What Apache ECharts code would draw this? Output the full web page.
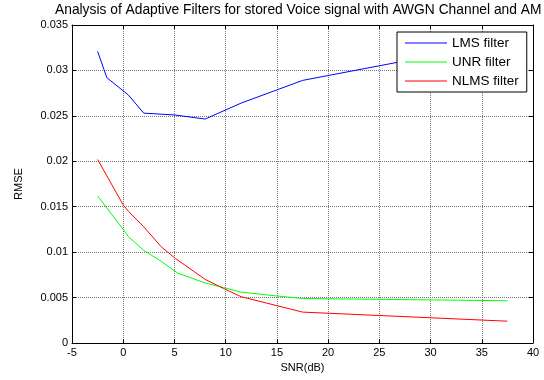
<!DOCTYPE html>
<html>
<head>
<meta charset="utf-8">
<script src="https://cdn.jsdelivr.net/npm/echarts@6/dist/echarts.min.js"></script>
<style>
  html, body { margin: 0; padding: 0; background: #fff; }
  #chart { width: 544px; height: 380px; }
</style>
</head>
<body>
<div id="chart"></div>
<script>
// values
const titleText = 'Analysis of Adaptive Filters for stored Voice signal with AWGN Channel and AM';
const seriesNames = ['LMS filter', 'UNR filter', 'NLMS filter'];

const snrLms = [-2.5, -1.6, 0.5, 2.0, 5.0, 8.0, 11.5, 17.5, 37.5];
const lms    = [0.0321, 0.0292, 0.0273, 0.0253, 0.0251, 0.02465, 0.0264, 0.0289, 0.0332];

const snrUnr = [-2.5, 0.0, 0.5, 2.0, 3.7, 5.3, 8.0, 9.8, 11.5, 14.8, 17.5, 37.5];
const unr    = [0.0162, 0.0125, 0.0117, 0.0102, 0.0090, 0.0077, 0.0066, 0.0061, 0.0056, 0.0052, 0.0049, 0.00465];

const snrNlms = [-2.5, -1.6, 0.0, 0.5, 2.0, 3.7, 5.1, 8.0, 9.8, 11.5, 17.5, 37.5];
const nlms    = [0.0202, 0.0184, 0.0152, 0.0145, 0.0128, 0.0106, 0.0093, 0.0070, 0.0060, 0.0051, 0.0034, 0.0024];

const lineColors = ['#0000ff', '#00ff00', '#ff0000'];

const pairs = (xs, ys) => xs.map((x, i) => [x, ys[i]]);

const font = 'Liberation Sans, Arial, sans-serif';
const gridLine = { show: true, lineStyle: { color: '#777', type: [1, 1], width: 1 } };
const tick = { show: true, inside: true, length: 4, lineStyle: { color: '#000' } };
const frame = { show: true, onZero: false, lineStyle: { color: '#000', width: 1 } };

const chart = echarts.init(document.getElementById('chart'));

chart.setOption({
  animation: false,
  title: {
    text: titleText,
    left: 55, top: 3, padding: 0,
    textStyle: { fontFamily: font, fontSize: 13.8, fontWeight: 'normal', color: '#000' }
  },
  grid: { left: 72, right: 11, top: 25, bottom: 37 },
  legend: {
    orient: 'vertical',
    left: 397, top: 32,
    data: seriesNames,
    backgroundColor: '#fff',
    borderColor: '#000', borderWidth: 1,
    padding: [4, 8, 4, 8],
    itemWidth: 42, itemHeight: 12, itemGap: 5,
    icon: 'path://M0,5 L42,5 L42,6 L0,6 Z',
    textStyle: { fontFamily: font, fontSize: 13.5, color: '#000' }
  },
  xAxis: [{
    type: 'value', min: -5, max: 40, interval: 5,
    name: 'SNR(dB)', nameLocation: 'middle', nameGap: 16,
    nameTextStyle: { fontFamily: font, fontSize: 11, color: '#000' },
    axisLine: frame, axisTick: tick, splitLine: gridLine,
    axisLabel: { fontFamily: font, fontSize: 11, color: '#000', margin: 4 }
  }, {
    type: 'value', min: -5, max: 40, interval: 5, position: 'top',
    axisLine: frame, axisTick: tick, splitLine: { show: false },
    axisLabel: { show: false }
  }],
  yAxis: [{
    type: 'value', min: 0, max: 0.035, interval: 0.005,
    name: 'RMSE', nameLocation: 'middle', nameGap: 48,
    nameTextStyle: { fontFamily: font, fontSize: 11, color: '#000' },
    axisLine: frame, axisTick: tick, splitLine: gridLine,
    axisLabel: { fontFamily: font, fontSize: 11, color: '#000', margin: 4 }
  }, {
    type: 'value', min: 0, max: 0.035, interval: 0.005, position: 'right',
    axisLine: frame, axisTick: tick, splitLine: { show: false },
    axisLabel: { show: false }
  }],
  series: [
    { name: seriesNames[0], data: pairs(snrLms, lms) },
    { name: seriesNames[1], data: pairs(snrUnr, unr) },
    { name: seriesNames[2], data: pairs(snrNlms, nlms) }
  ].map((s, i) => Object.assign(s, {
    type: 'line', showSymbol: false, symbol: 'none',
    color: lineColors[i],
    lineStyle: { color: lineColors[i], width: 1 },
    z: 2
  }))
});
</script>
</body>
</html>
